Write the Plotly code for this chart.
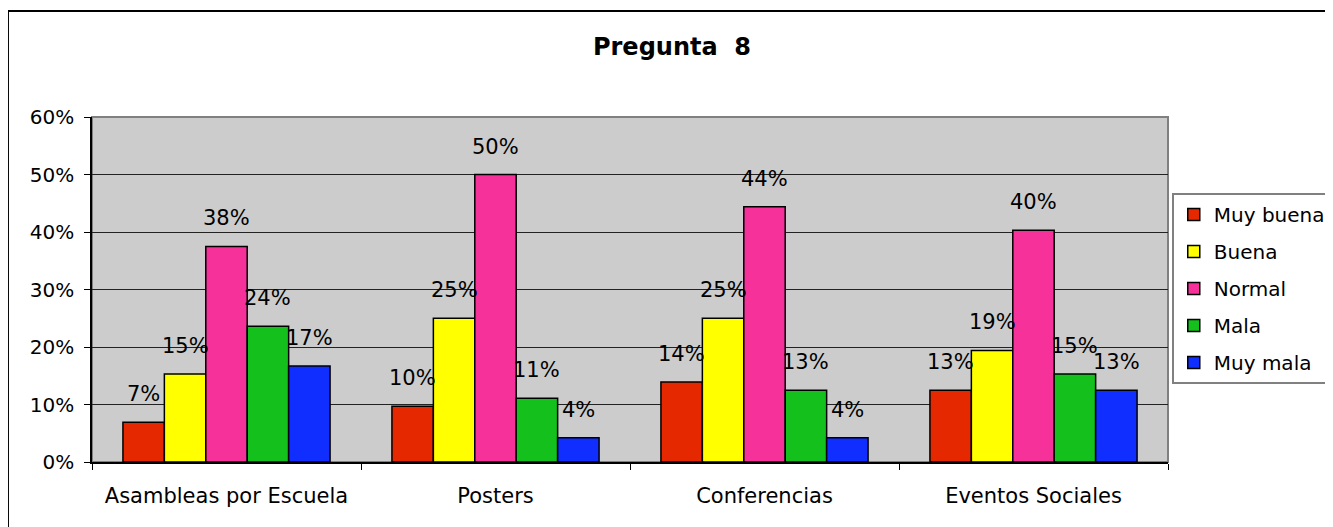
import math
import plotly.graph_objects as go

categories = ["Asambleas por Escuela", "Posters", "Conferencias", "Eventos Sociales"]
series_names = ["Muy buena", "Buena", "Normal", "Mala", "Muy mala"]
muy_buena = [0.069, 0.097, 0.139, 0.125]
buena = [0.153, 0.250, 0.250, 0.194]
normal = [0.375, 0.500, 0.444, 0.403]
mala = [0.236, 0.111, 0.125, 0.153]
muy_mala = [0.167, 0.042, 0.042, 0.125]
y_tick_vals = [0, 0.1, 0.2, 0.3, 0.4, 0.5, 0.6]
title_text = "Pregunta\u00a0 8"

series_values = [muy_buena, buena, normal, mala, muy_mala]
colors = ["#E62800", "#FFFF00", "#F7319A", "#14C11C", "#0F2EFF"]

FONT = "DejaVu Sans"
bar_w = 0.154
n = len(series_names)

# the page has an 8px body margin; figure is sized/positioned to compensate
FIG_W, FIG_H = 1325, 519

fig = go.Figure()
annotations = []
for i, (name, vals, col) in enumerate(zip(series_names, series_values, colors)):
    off = (i - (n - 1) / 2) * bar_w
    xs = [c + off for c in range(len(categories))]
    fig.add_trace(go.Bar(
        x=xs, y=vals, width=bar_w, name=name, legendgroup=name,
        marker=dict(color=col, line=dict(color="#000000", width=1.5)),
        hoverinfo="skip",
    ))
    for x, v in zip(xs, vals):
        annotations.append(dict(
            x=x, y=v, xref="x", yref="y", text=f"{math.floor(v * 100 + 0.5)}%",
            showarrow=False, yanchor="middle", xanchor="center", yshift=28,
            font=dict(family=FONT, size=21, color="#000000"),
        ))

shapes = [
    dict(type="rect", xref="paper", yref="paper", x0=0, x1=1, y0=0, y1=1,
         line=dict(color="#808080", width=2), fillcolor="rgba(0,0,0,0)", layer="below"),
    dict(type="rect", xref="paper", yref="paper", x0=-0.0781, x1=1.17, y0=-0.22, y1=1.307,
         line=dict(color="#000000", width=2), fillcolor="rgba(0,0,0,0)", layer="below"),
]

fig.update_layout(
    width=FIG_W, height=FIG_H,
    margin=dict(l=84, r=165, t=109, b=65, autoexpand=False),
    paper_bgcolor="#FFFFFF", plot_bgcolor="#CCCCCC",
    barmode="overlay",
    font=dict(family=FONT, size=20, color="#000000"),
    title=dict(text=title_text, x=664 / FIG_W, xref="container", xanchor="center",
               y=1 - 39 / FIG_H, yref="container", yanchor="middle",
               font=dict(family=FONT, size=24, color="#000000", weight="bold")),
    showlegend=True,
    legend=dict(x=1.0035, y=0.78, xanchor="left", yanchor="top",
                bgcolor="#FFFFFF", bordercolor="#808080", borderwidth=2,
                font=dict(family=FONT, size=20, color="#000000"),
                tracegroupgap=8, traceorder="grouped"),
    annotations=annotations,
    shapes=shapes,
)

fig.update_xaxes(
    range=[-0.5, len(categories) - 0.5],
    tickmode="array", tickvals=list(range(len(categories))), ticktext=categories,
    ticks="", showgrid=False, zeroline=False,
    showline=True, linecolor="#000000", linewidth=1.5,
    tickfont=dict(family=FONT, size=21, color="#000000"),
    ticklabelstandoff=14,
    minor=dict(tickmode="array", tickvals=[c - 0.5 for c in range(len(categories) + 1)],
               ticks="outside", ticklen=6, tickcolor="#000000", tickwidth=1, showgrid=False),
    fixedrange=True,
)
fig.update_yaxes(
    range=[0, 0.6], tickmode="array", tickvals=y_tick_vals, tickformat=".0%",
    ticks="outside", ticklen=6, tickcolor="#000000", tickwidth=1,
    showgrid=True, gridcolor="#222222", gridwidth=1, zeroline=False,
    showline=True, linecolor="#000000", linewidth=1.5,
    tickfont=dict(family=FONT, size=20, color="#000000"),
    ticklabelstandoff=6,
    fixedrange=True,
)

fig.write_html("out.html", config={"displayModeBar": False})
